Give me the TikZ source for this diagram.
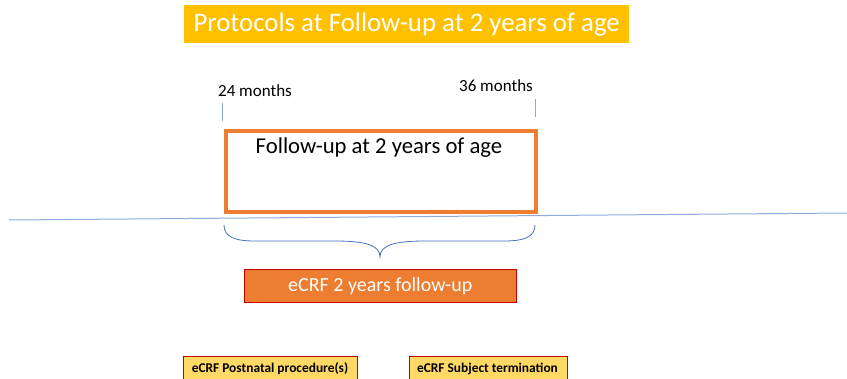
\documentclass[tikz,border=0pt]{standalone}
\usepackage{fontspec}
\setmainfont{Carlito}
\definecolor{gold}{HTML}{FFC000}
\definecolor{orng}{HTML}{ED7D31}
\definecolor{dred}{HTML}{C00000}
\definecolor{lyel}{HTML}{FFD966}
\definecolor{bl}{HTML}{4472C4}
\definecolor{lbl}{HTML}{8FAADC}
\begin{document}
\begin{tikzpicture}[x=1pt,y=-1pt,
  fs/.style={font=\fontsize{#1}{#1}\selectfont},
  smallbox/.style={draw=dred,line width=1.3pt,fill=lyel,inner sep=0pt,anchor=north west}]
\useasboundingbox (0,0) rectangle (847,378);
% title
\node[fill=gold,minimum width=445pt,minimum height=38pt,inner sep=0pt,anchor=north west,text=white,fs=26.8] (title) at (184,5) {Protocols at Follow-up at 2 years of age};
% month labels
\node[fs=17] (m24) at (255,91) {24 months};
\node[fs=17] (m36) at (496,86) {36 months};
\coordinate (t1a) at (222,103); \coordinate (t1b) at (222,121);
\coordinate (t2a) at (535,99); \coordinate (t2b) at (535,117);
\draw[lbl,line width=0.9pt] (t1a) -- (t1b);
\draw[lbl,line width=0.9pt] (t2a) -- (t2b);
% main box
\node[draw=orng,line width=4pt,minimum width=310pt,minimum height=81pt,inner sep=0pt,anchor=north west] (fu) at (224,129) {};
\node[fs=22.7,anchor=north] (fut) at (379,134) {Follow-up at 2 years of age};
% timeline
\coordinate (la) at (9,220); \coordinate (lb) at (847,213);
\draw[lbl,line width=1pt] (la) -- (lb);
% brace
\coordinate (bl) at (224,225); \coordinate (br) at (535,225); \coordinate (bt) at (380,257);
\draw[bl,line width=0.8pt] (bl) .. controls (224,237) and (235,241) .. (255,241) -- (335,241) .. controls (365,241) and (380,245) .. (bt)
  .. controls (380,245) and (395,241) .. (425,241) -- (504,241) .. controls (524,241) and (535,237) .. (br);
% ecrf box
\node[fill=orng,draw=dred,line width=1.5pt,minimum width=272pt,minimum height=33pt,inner sep=0pt,anchor=north west,text=white,fs=20] (ecrf) at (243.5,268.5) {eCRF 2 years follow-up};
% bottom boxes
\node[smallbox,minimum width=174pt,minimum height=26pt] (pn) at (183,356) {};
\node[font=\fontsize{13.4}{13.4}\selectfont\bfseries] (pnt) at (270,369) {eCRF Postnatal procedure(s)};
\node[smallbox,minimum width=158pt,minimum height=26pt] (st) at (408.5,356) {};
\node[font=\fontsize{13.4}{13.4}\selectfont\bfseries] (stt) at (487.5,369) {eCRF Subject termination};
\end{tikzpicture}
\end{document}
